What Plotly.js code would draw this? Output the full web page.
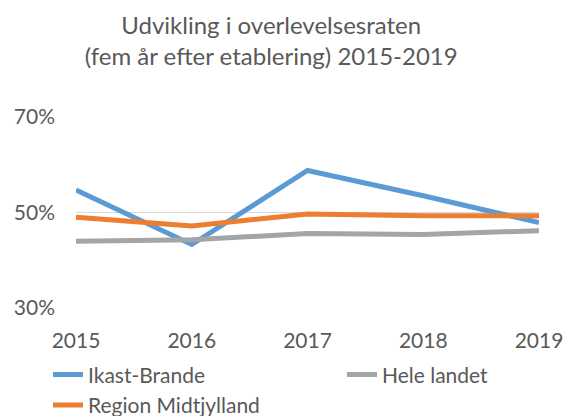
<!DOCTYPE html>
<html><head><meta charset="utf-8">
<script src="https://cdn.plot.ly/plotly-3.0.1.min.js"></script>
<style>html,body{margin:0;padding:0;background:#fff}#c{width:565px;height:416px}</style>
</head><body><div id="c"></div>
<script>
const years = ['2015','2016','2017','2018','2019'];
const ikastBrande = [0.547, 0.433, 0.588, 0.535, 0.479];
const regionMidtjylland = [0.490, 0.472, 0.497, 0.493, 0.493];
const heleLandet = [0.440, 0.443, 0.456, 0.454, 0.462];
const yTicks = [0.3, 0.5, 0.7];

const font = 'Lato, "Open Sans", sans-serif';
const mk = (name, y, color, lg) => ({x: years, y: y, name: name, type: 'scatter', mode: 'lines',
  line: {color: color, width: 5}, hoverinfo: 'skip', legend: lg});
const data = [
  mk('Ikast-Brande', ikastBrande, '#5B9BD5', 'legend'),
  mk('Hele landet', heleLandet, '#A5A5A5', 'legend2'),
  mk('Region Midtjylland', regionMidtjylland, '#ED7D31', 'legend')
];
const legBase = {orientation: 'v', xref: 'container', yref: 'container', y: 0.148, yanchor: 'top',
  xanchor: 'left', traceorder: 'normal', font: {size: 21, color: '#595959', family: font},
  itemwidth: 30, tracegroupgap: 0, bgcolor: 'rgba(0,0,0,0)', borderwidth: 0};
const layout = {
  width: 565, height: 416,
  margin: {l: 76, r: 26, t: 117, b: 108, autoexpand: false},
  paper_bgcolor: '#fff', plot_bgcolor: '#fff',
  font: {family: font, color: '#595959', size: 21},
  title: {text: 'Udvikling i overlevelsesraten<br>(fem år efter etablering) 2015-2019',
    x: 0.48, xanchor: 'center', y: 0.918, yanchor: 'middle', font: {size: 24, color: '#595959', family: font}},
  xaxis: {type: 'category', range: [0, 4], showgrid: false, zeroline: false, showline: false,
    ticks: '', ticklabelstandoff: 18, tickangle: 0, tickfont: {size: 21, color: '#595959'}, fixedrange: true},
  yaxis: {range: [0.3, 0.7], tickvals: yTicks, tickformat: '.0%', showgrid: true,
    gridcolor: '#D9D9D9', gridwidth: 1.5, zeroline: false, showline: false, ticks: '',
    ticklabelstandoff: 20, tickfont: {size: 21, color: '#595959'}, fixedrange: true},
  showlegend: true,
  legend: Object.assign({}, legBase, {x: 48 / 565}),
  legend2: Object.assign({}, legBase, {x: 342 / 565})
};
Plotly.newPlot('c', data, layout, {staticPlot: true, displayModeBar: false});
</script></body></html>
